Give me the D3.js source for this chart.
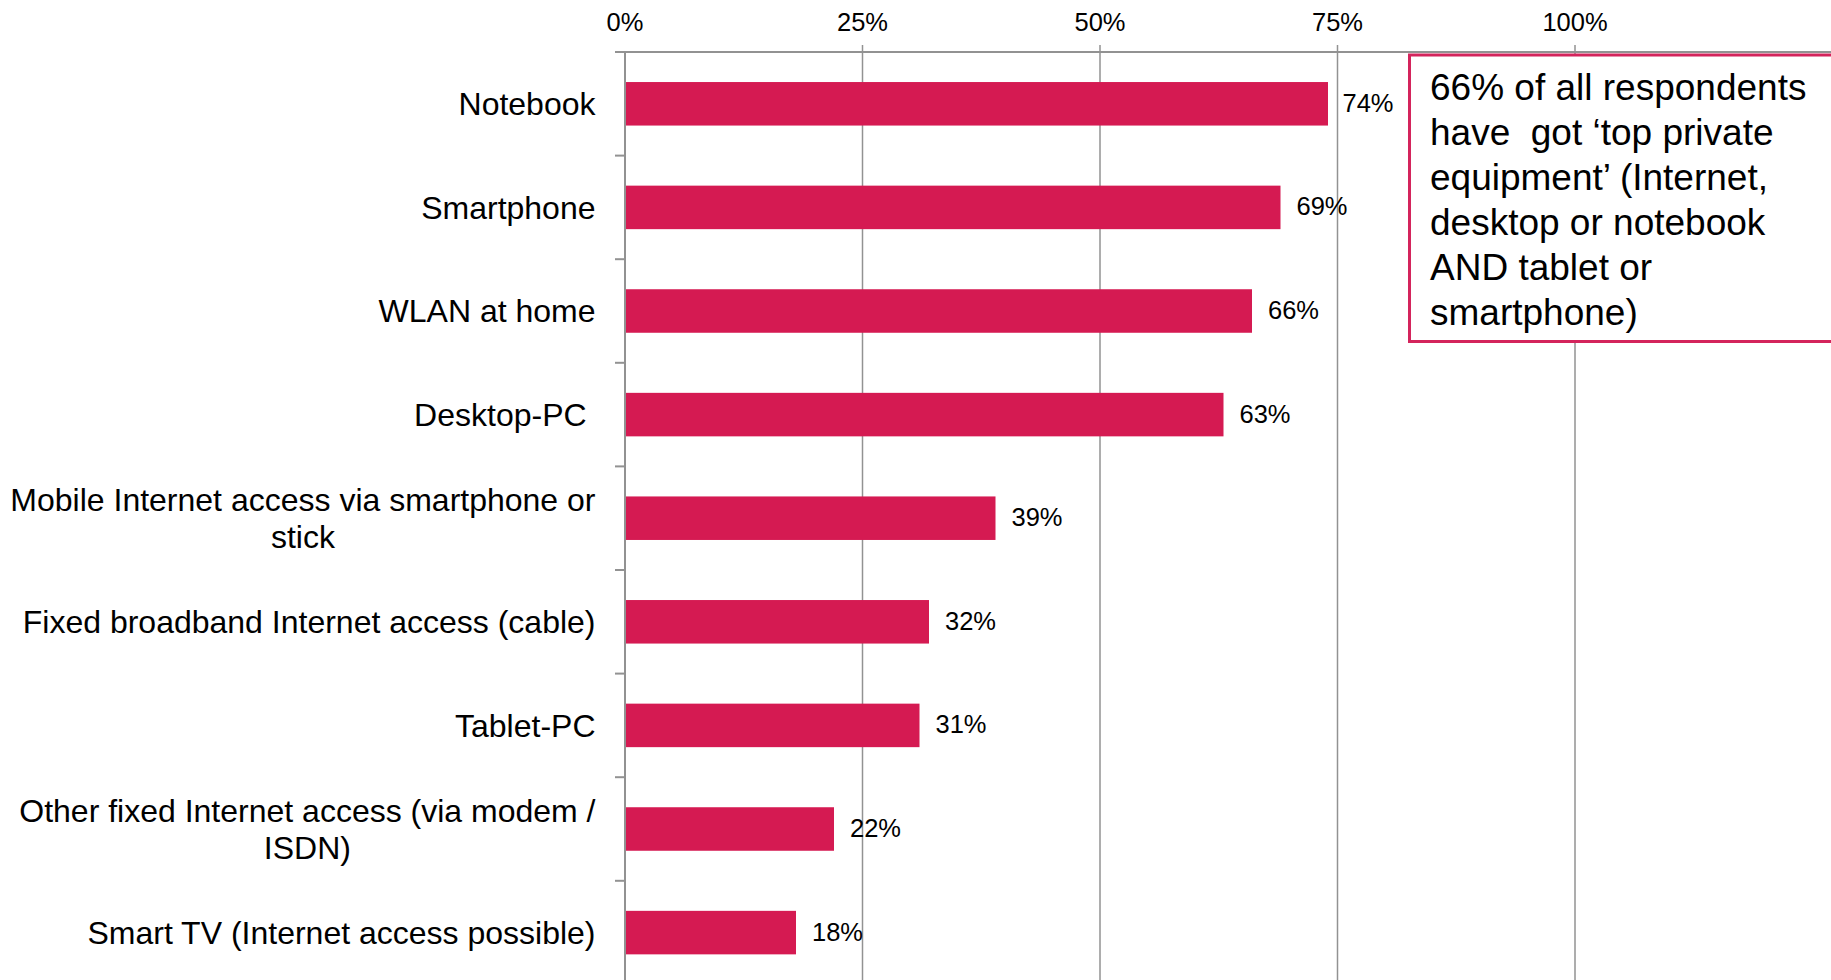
<!DOCTYPE html>
<html>
<head>
<meta charset="utf-8">
<script src="https://cdn.jsdelivr.net/npm/d3@7"></script>
<style>
  html, body { margin: 0; padding: 0; background: #fff; }
  svg { display: block; font-family: "Liberation Sans", Arial, sans-serif; }
  .cat { white-space: pre; }
</style>
</head>
<body>
<svg id="chart" width="1831" height="980"></svg>
<script>
// Devices and access types owned by respondents (share in %)
const categories = [
  ["Notebook"],
  ["Smartphone"],
  ["WLAN at home"],
  ["Desktop-PC "],
  ["Mobile Internet access via smartphone or", "stick"],
  ["Fixed broadband Internet access (cable)"],
  ["Tablet-PC"],
  ["Other fixed Internet access (via modem /", "ISDN)"],
  ["Smart TV (Internet access possible)"]
];
const shares = [74, 69, 66, 63, 39, 32, 31, 22, 18];
const xTicks = [0, 25, 50, 75, 100];
const noteLines = [
  "66% of all respondents",
  "have  got \u2018top private",
  "equipment\u2019 (Internet,",
  "desktop or notebook",
  "AND tablet or",
  "smartphone)"
];

const W = 1831, H = 980;
const plotLeft = 625, plotRight = 1575, plotTop = 52;
const step = 103.6;
const barColor = "#d51a52";
const gridColor = "#929292";
const boxLeft = 1409.5;

const svg = d3.select("#chart");
const keys = categories.map((c, i) => "c" + i);

const x = d3.scaleLinear().domain([0, 100]).range([plotLeft, plotRight]);
const y = d3.scaleBand()
  .domain(keys)
  .range([plotTop, plotTop + step * keys.length])
  .paddingInner(0.58)
  .paddingOuter(0.29);

// vertical gridlines
svg.append("g").selectAll("line")
  .data(xTicks)
  .join("line")
  .attr("x1", d => x(d)).attr("x2", d => x(d))
  .attr("y1", d => d === 0 ? plotTop : plotTop - 7)
  .attr("y2", H)
  .attr("stroke", gridColor)
  .attr("stroke-width", 1.5);

// top axis line and tick labels
svg.append("line")
  .attr("x1", plotLeft - 10).attr("x2", W)
  .attr("y1", plotTop).attr("y2", plotTop)
  .attr("stroke", gridColor).attr("stroke-width", 2);

svg.append("g").selectAll("text")
  .data(xTicks)
  .join("text")
  .attr("x", d => x(d))
  .attr("y", 30.5)
  .attr("text-anchor", "middle")
  .attr("font-size", 25.5)
  .attr("fill", "#000")
  .text(d => d + "%");

// category axis with ticks between bands
const gap = (y.step() - y.bandwidth()) / 2;
svg.append("g").selectAll("line")
  .data(keys.slice(1))
  .join("line")
  .attr("x1", plotLeft - 10).attr("x2", plotLeft)
  .attr("y1", d => y(d) - gap).attr("y2", d => y(d) - gap)
  .attr("stroke", gridColor).attr("stroke-width", 2);
svg.append("line")
  .attr("x1", plotLeft).attr("x2", plotLeft)
  .attr("y1", plotTop).attr("y2", H)
  .attr("stroke", gridColor).attr("stroke-width", 2);

// bars
svg.append("g").selectAll("rect")
  .data(shares)
  .join("rect")
  .attr("x", x(0) + 1)
  .attr("y", (d, i) => y(keys[i]))
  .attr("width", d => x(d) - x(0) - 1)
  .attr("height", y.bandwidth())
  .attr("fill", barColor);

// value labels, pulled left when they would run into the note box
const labelOffset = 16;
svg.append("g").selectAll("text")
  .data(shares)
  .join("text")
  .attr("y", (d, i) => y(keys[i]) + y.bandwidth() / 2 - 1)
  .attr("dy", "0.35em")
  .attr("font-size", 25.5)
  .attr("fill", "#000")
  .text(d => d + "%")
  .attr("x", function (d) {
    const w = this.getComputedTextLength();
    const ideal = x(d) + labelOffset;
    return Math.min(ideal, boxLeft - 16 - w);
  });

// category labels (wrapped lines centred within a right-aligned block)
const labelRight = 595.5;
const lineGap = 37;
categories.forEach((lines, i) => {
  const cy = y(keys[i]) + y.bandwidth() / 2;
  const t = svg.append("text")
    .attr("class", "cat")
    .attr("font-size", 32)
    .attr("fill", "#000");
  lines.forEach((ln, j) => {
    t.append("tspan")
      .attr("y", cy + (j - (lines.length - 1) / 2) * lineGap)
      .attr("dy", "0.35em")
      .text(ln);
  });
  if (lines.length === 1) {
    t.attr("text-anchor", "end");
    t.selectAll("tspan").attr("x", labelRight);
  } else {
    const widths = t.selectAll("tspan").nodes().map(n => n.getComputedTextLength());
    const maxW = d3.max(widths);
    t.attr("text-anchor", "middle");
    t.selectAll("tspan").attr("x", labelRight - maxW / 2);
  }
});

// annotation box
svg.append("rect")
  .attr("x", boxLeft).attr("y", 55)
  .attr("width", W - boxLeft + 10).attr("height", 286.5)
  .attr("fill", "#fff")
  .attr("stroke", "#d4245c")
  .attr("stroke-width", 3);

svg.append("g").selectAll("text")
  .data(noteLines)
  .join("text")
  .attr("class", "cat")
  .attr("x", 1430)
  .attr("y", (d, i) => 100 + i * 45)
  .attr("font-size", 37)
  .attr("fill", "#000")
  .text(d => d);
</script>
</body>
</html>
